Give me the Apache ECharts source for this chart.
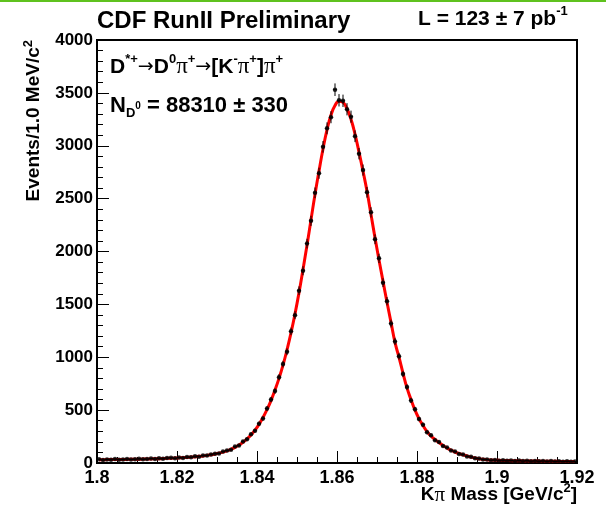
<!DOCTYPE html>
<html>
<head>
<meta charset="UTF-8">
<script src="https://cdn.jsdelivr.net/npm/echarts@6/dist/echarts.min.js"></script>
<style>
  html, body { margin: 0; background: #fff; }
  #main { width: 606px; height: 512px; }
</style>
</head>
<body>
<div id="main"></div>
<script>
// 1 MeV bins from 1.800 to 1.920 GeV/c^2
var massStart = 1.8005;
var binWidth = 0.001;

// fitted curve (events per bin)
var fitValues = [
  31, 31, 32, 32, 33, 33, 34, 34, 35, 35,
  36, 37, 38, 39, 40, 41, 42, 44, 45, 47,
  49, 51, 53, 56, 59, 63, 67, 72, 78, 85,
  93, 103, 115, 130, 148, 170, 196, 228, 265, 310,
  365, 430, 505, 590, 690, 800, 925, 1070, 1230, 1410,
  1610, 1830, 2060, 2300, 2540, 2760, 2970, 3150, 3290, 3380,
  3420, 3410, 3350, 3250, 3110, 2940, 2760, 2570, 2350, 2130,
  1920, 1720, 1520, 1330, 1140, 1000, 850, 710, 600, 500,
  420, 355, 298, 255, 222, 193, 166, 142, 121, 104,
  90, 78, 66, 56, 47, 40, 35, 31, 28, 26,
  25, 24, 23, 22, 21, 21, 20, 19, 19, 18,
  18, 17, 17, 16, 16, 15, 15, 15, 14, 14
];

// measured points (events per bin)
var dataValues = [
  36, 28, 34, 30, 37, 31, 33, 38, 32, 36,
  40, 35, 37, 43, 38, 44, 40, 47, 49, 44,
  52, 48, 57, 54, 63, 60, 72, 70, 81, 88,
  90, 108, 118, 126, 155, 165, 204, 225, 272, 305,
  372, 420, 515, 600, 680, 812, 935, 1052, 1245, 1398,
  1630, 1818, 2075, 2290, 2555, 2740, 2990, 3165, 3270, 3530,
  3430, 3425, 3345, 3275, 3090, 2925, 2770, 2560, 2370, 2115,
  1935, 1705, 1530, 1318, 1150, 1010, 842, 718, 592, 508,
  415, 362, 290, 262, 215, 198, 160, 146, 118, 108,
  86, 80, 62, 58, 45, 42, 33, 34, 26, 28,
  22, 26, 21, 24, 19, 23, 18, 22, 17, 20,
  16, 19, 15, 18, 14, 17, 13, 16, 12, 15
];

var fitLine = fitValues.map(function (v, i) { return [massStart + i * binWidth, v]; });
var points = dataValues.map(function (v, i) { return [massStart + i * binWidth, v]; });

var font = '"Liberation Sans", Arial, sans-serif';
function t(size) { return { fontFamily: font, fontWeight: 'bold', fontSize: size, lineHeight: 28, fill: '#000' }; }
var big = t(21);
var pi = { fontFamily: '"Liberation Serif", serif', fontSize: 23, lineHeight: 28, fill: '#000' };
var arrow = { fontFamily: '"DejaVu Sans", sans-serif', fontSize: 19, lineHeight: 28, fill: '#000' };
var sup = { fontFamily: font, fontWeight: 'bold', fontSize: 13, lineHeight: 15, verticalAlign: 'top', fill: '#000' };
var sub = { fontFamily: font, fontWeight: 'bold', fontSize: 13, lineHeight: 15, verticalAlign: 'bottom', fill: '#000' };

var chart = echarts.init(document.getElementById('main'));

chart.setOption({
  animation: false,
  backgroundColor: '#fff',
  grid: {
    left: 97, top: 40, width: 480, height: 423,
    show: true, borderColor: '#000', borderWidth: 2
  },
  xAxis: {
    type: 'value', min: 1.8, max: 1.92, interval: 0.02,
    axisLine: { lineStyle: { color: '#000', width: 2 } },
    axisTick: { inside: true, length: 12, lineStyle: { color: '#000', width: 1 } },
    minorTick: { show: true, splitNumber: 4, length: 6, lineStyle: { color: '#000', width: 1 } },
    splitLine: { show: false },
    axisLabel: {
      color: '#000', fontFamily: font, fontWeight: 'bold', fontSize: 18, margin: 6,
      formatter: function (v) { return String(Number(v.toFixed(3))); }
    }
  },
  yAxis: {
    type: 'value', min: 0, max: 4000, interval: 500,
    axisLine: { lineStyle: { color: '#000', width: 2 } },
    axisTick: { inside: true, length: 12, lineStyle: { color: '#000', width: 1 } },
    minorTick: { show: true, splitNumber: 5, length: 6, lineStyle: { color: '#000', width: 1 } },
    splitLine: { show: false },
    axisLabel: {
      color: '#000', fontFamily: font, fontWeight: 'bold', fontSize: 17, margin: 4,
      formatter: function (v) { return String(v); }
    }
  },
  graphic: [
    { type: 'rect', left: 0, top: 0, shape: { width: 606, height: 2 }, style: { fill: '#5fc21e' } },
    {
      type: 'text', x: 97, y: 9,
      style: { text: 'CDF RunII Preliminary', font: 'bold 24px ' + font, fill: '#000' }
    },
    {
      type: 'text', x: 418, y: 5,
      style: { text: '{t|L = 123 ± 7 pb}{s|-1}', rich: { t: t(21), s: sup } }
    },
    {
      type: 'text', x: 110, y: 53,
      style: {
        text: '{t|D}{s|*+}{a|→}{t|D}{s|0}{p|π}{s|+}{a|→}{t|[K}{s|-}{p|π}{s|+}{t|]}{p|π}{s|+}',
        rich: { t: big, s: sup, p: pi, a: arrow }
      }
    },
    {
      type: 'text', x: 110, y: 92,
      style: {
        text: '{t|N}{b|D}{s|0}{t| = 88310 ± 330}',
        rich: { t: t(22), b: sub, s: { fontFamily: font, fontWeight: 'bold', fontSize: 10, lineHeight: 28, verticalAlign: 'middle', fill: '#000' } }
      }
    },
    {
      type: 'text', x: 577, y: 482,
      style: {
        text: '{p|K}{q|π}{t| Mass [GeV/c}{s|2}{t|]}', align: 'right',
        rich: {
          t: { fontFamily: font, fontWeight: 'bold', fontSize: 19, lineHeight: 26, fill: '#000' },
          p: { fontFamily: font, fontWeight: 'bold', fontSize: 19, lineHeight: 26, fill: '#000' },
          q: { fontFamily: '"Liberation Serif", serif', fontSize: 21, lineHeight: 26, fill: '#000' },
          s: sup
        }
      }
    },
    {
      type: 'text', x: 22, y: 40, rotation: Math.PI / 2,
      style: {
        text: '{t|Events/1.0 MeV/c}{s|2}', align: 'right',
        rich: { t: { fontFamily: font, fontWeight: 'bold', fontSize: 19, lineHeight: 24, fill: '#000' }, s: sup }
      }
    }
  ],
  series: [
    {
      type: 'line', data: fitLine, smooth: true, showSymbol: false, z: 2,
      lineStyle: { color: '#ff0000', width: 3 }
    },
    {
      type: 'custom', z: 3,
      renderItem: function (params, api) {
        var x = api.value(0), y = api.value(1), e = Math.sqrt(y);
        var top = api.coord([x, y + e]), bot = api.coord([x, y - e]);
        var l = api.coord([x - binWidth / 2, y]), r = api.coord([x + binWidth / 2, y]);
        return {
          type: 'group',
          children: [
            { type: 'line', shape: { x1: top[0], y1: top[1], x2: bot[0], y2: bot[1] }, style: { stroke: '#000', lineWidth: 1 } },
            { type: 'line', shape: { x1: l[0], y1: l[1], x2: r[0], y2: r[1] }, style: { stroke: '#000', lineWidth: 1 } }
          ]
        };
      },
      data: points
    },
    {
      type: 'scatter', data: points, symbol: 'circle', symbolSize: 4.5, z: 4,
      itemStyle: { color: '#000' }
    }
  ]
});
</script>
</body>
</html>
